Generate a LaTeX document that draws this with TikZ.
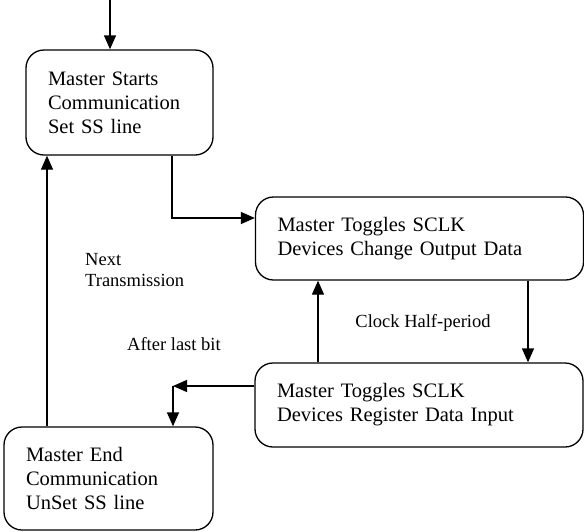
\documentclass[tikz,border=0pt]{standalone}
\usepackage{fontspec}
\setmainfont{Liberation Serif}
\usepackage{tikz}
\usetikzlibrary{arrows.meta}

\tikzset{
  stagebox/.style={draw, line width=1.3pt, rounded corners=18pt, align=left,
    inner xsep=22pt, inner ysep=0pt, font=\fontsize{20.5}{24}\selectfont},
  flow/.style={line width=1.3pt, -{Triangle[length=14pt,width=12pt]}},
  note/.style={align=left, inner sep=0pt, font=\fontsize{18.5}{21}\selectfont}
}

\begin{document}
\begin{tikzpicture}[x=1pt, y=-1pt]
        \useasboundingbox (0,0) rectangle (584,531);
        % the four stages
        \node[stagebox, text width=143pt, minimum height=105pt] (start) at (119.5,102.5)
          {Master Starts\\Communication\\Set SS line};
        \node[stagebox, text width=284pt, minimum height=83pt] (change) at (419.5,238.5)
          {Master Toggles SCLK\\Devices Change Output Data};
        \node[stagebox, text width=284pt, minimum height=84pt] (register) at (419,405)
          {Master Toggles SCLK\\Devices Register Data Input};
        \node[stagebox, text width=165pt, minimum height=103pt] (stop) at (108.5,478.5)
          {Master End\\Communication\\UnSet SS line};
        % free ends of the connectors
        \coordinate (entry) at (110,0);
        \coordinate (bend) at (172,218);
        \coordinate (split) at (173,386);
        % connectors
        \draw[flow] (entry) -- (entry |- start.north);
        \draw[flow] (start.south -| bend) -- (bend) -- (bend -| change.west);
        \draw[flow] (change.south -| 528,0) -- (register.north -| 528,0);
        \draw[flow] (register.north -| 318,0) -- (change.south -| 318,0);
        \draw[flow] (register.west |- split) -- (split);
        \draw[flow] (split) -- (split |- stop.north);
        \draw[flow] (stop.north -| 47,0) -- (start.south -| 47,0);
        % labels
        \node[note, anchor=base west] (next) at (85,286) {Next\\Transmission};
        \node[note, anchor=base west] (lastbit) at (127,350) {After last bit};
        \node[note, anchor=base] (halfperiod) at (423,327) {Clock Half-period};
\end{tikzpicture}
\end{document}
